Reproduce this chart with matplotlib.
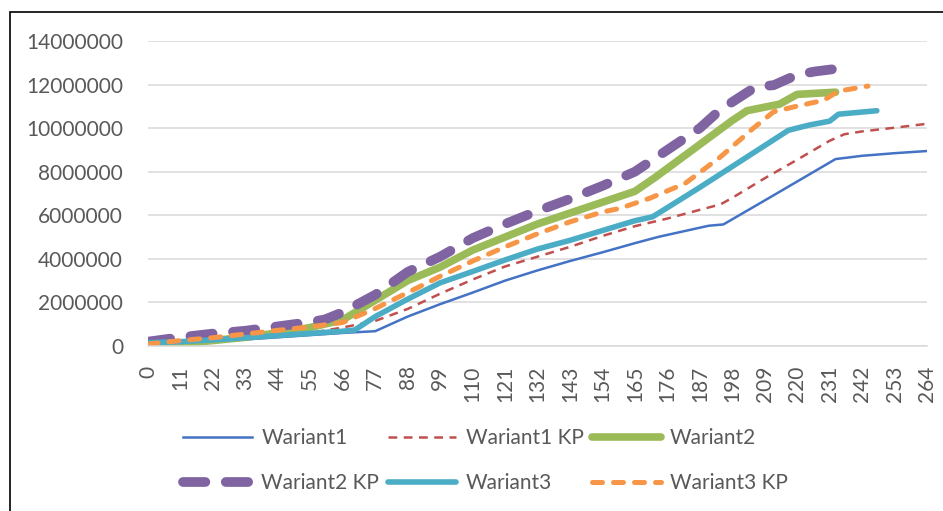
import matplotlib
matplotlib.use('Agg')
from matplotlib import pyplot as plt
from matplotlib.patches import Rectangle
from matplotlib.ticker import FuncFormatter

plt.rcParams['font.family'] = ['Lato', 'DejaVu Sans']

# dane (wartosci w milionach)
x_w1 = [0, 11, 22, 33, 44, 55, 66, 77, 88, 99, 110, 121, 132, 143, 154, 165, 173, 190, 195, 209, 220, 233, 242, 253, 264]
y_w1 = [0.05, 0.12, 0.2, 0.3, 0.4, 0.5, 0.6, 0.68, 1.35, 1.92, 2.45, 3.0, 3.47, 3.9, 4.3, 4.72, 5.01, 5.52, 5.58, 6.68, 7.55, 8.58, 8.73, 8.85, 8.95]

x_w1kp = [0, 11, 22, 33, 44, 55, 66, 77, 88, 99, 110, 121, 132, 143, 154, 165, 176, 187, 194, 198, 209, 220, 231, 236, 242, 253, 264]
y_w1kp = [0.1, 0.17, 0.27, 0.37, 0.47, 0.6, 0.85, 1.15, 1.7, 2.4, 3.05, 3.65, 4.1, 4.55, 5.05, 5.5, 5.85, 6.25, 6.5, 6.8, 7.7, 8.55, 9.42, 9.72, 9.85, 10.02, 10.2]

x_w2 = [0, 11, 22, 33, 44, 55, 66, 77, 88, 99, 110, 121, 132, 143, 154, 165, 172, 176, 187, 198, 203, 214, 220, 233]
y_w2 = [0.0, 0.12, 0.25, 0.4, 0.6, 0.85, 1.2, 2.1, 3.0, 3.62, 4.4, 5.0, 5.6, 6.1, 6.6, 7.1, 7.75, 8.15, 9.25, 10.35, 10.8, 11.1, 11.55, 11.65]

x_w2kp = [0, 11, 22, 33, 44, 55, 60, 66, 77, 88, 99, 110, 121, 132, 143, 154, 165, 176, 187, 194, 206, 212, 220, 226, 233]
y_w2kp = [0.2, 0.4, 0.57, 0.7, 0.9, 1.1, 1.22, 1.55, 2.35, 3.4, 4.1, 4.95, 5.6, 6.2, 6.75, 7.35, 8.0, 9.0, 10.0, 10.85, 11.9, 11.97, 12.45, 12.6, 12.72]

x_w3 = [0, 11, 22, 33, 44, 55, 66, 70, 77, 88, 99, 110, 121, 132, 143, 154, 165, 171, 176, 187, 198, 209, 217, 224, 231, 234, 247]
y_w3 = [0.15, 0.2, 0.28, 0.38, 0.48, 0.58, 0.68, 0.73, 1.35, 2.15, 2.9, 3.42, 3.95, 4.45, 4.85, 5.3, 5.75, 5.93, 6.35, 7.28, 8.24, 9.2, 9.9, 10.14, 10.32, 10.64, 10.8]

x_w3kp = [0, 11, 22, 33, 44, 55, 66, 77, 88, 99, 110, 121, 132, 143, 154, 160, 170, 182, 194, 205, 212, 219, 229, 234, 244]
y_w3kp = [0.09, 0.25, 0.38, 0.55, 0.72, 0.88, 1.08, 1.72, 2.45, 3.2, 3.9, 4.55, 5.15, 5.7, 6.15, 6.32, 6.78, 7.46, 8.68, 9.98, 10.75, 10.98, 11.28, 11.7, 11.93]

x_ticks = list(range(0, 265, 11))
y_ticks = list(range(0, 14000001, 2000000))

fig = plt.figure(figsize=(9.43, 5.11), dpi=100)
ax = fig.add_axes([148 / 943, 1 - 346 / 511, 779 / 943, 305 / 511])

M = 1e6
l1, = ax.plot(x_w1, [v * M for v in y_w1], color='#4472C4', lw=1.8, label='Wariant1')
l2, = ax.plot(x_w1kp, [v * M for v in y_w1kp], color='#C0504D', lw=1.8, dashes=(3.5, 2.6), label='Wariant1 KP')
l3, = ax.plot(x_w2, [v * M for v in y_w2], color='#9BBB59', lw=5.5, solid_capstyle='round', label='Wariant2')
l4, = ax.plot(x_w2kp, [v * M for v in y_w2kp], color='#8064A2', lw=7, dashes=(2.3, 2.1),
              dash_capstyle='round', label='Wariant2 KP')
l5, = ax.plot(x_w3, [v * M for v in y_w3], color='#4BACC6', lw=4, solid_capstyle='round', label='Wariant3')
l6, = ax.plot(x_w3kp, [v * M for v in y_w3kp], color='#F79646', lw=3.6, dashes=(2.0, 2.2),
              dash_capstyle='round', label='Wariant3 KP')

ax.set_xlim(0, 264)
ax.set_ylim(0, 14000000)
ax.set_xticks(x_ticks)
ax.set_yticks(y_ticks)
ax.yaxis.set_major_formatter(FuncFormatter(lambda v, p: '%d' % v))
ax.tick_params(axis='x', length=0, pad=14, labelsize=15, labelcolor='#595959', labelrotation=90)
ax.tick_params(axis='y', length=0, pad=18, labelsize=15, labelcolor='#595959')
ax.grid(axis='y', color='#D9D9D9', lw=1.1)
ax.set_axisbelow(True)
for s in ['top', 'right', 'left']:
    ax.spines[s].set_visible(False)
ax.spines['bottom'].set_color('#D9D9D9')
ax.spines['bottom'].set_linewidth(1.1)

# legenda pod wykresem - kolejnosc wierszami jak w Excelu
handles = [l1, l4, l2, l5, l3, l6]
fig.legend(handles=handles, labels=[h.get_label() for h in handles], loc='center',
           bbox_to_anchor=(0.515, 0.099), ncol=3, frameon=False,
           fontsize=15, labelcolor='#595959', handlelength=3.3, handletextpad=0.45,
           columnspacing=0.4, labelspacing=1.2)

# ramka wykresu (obcieta z prawej i z dolu)
fig.patches.append(Rectangle((10 / 943, -0.1), 1.5, 1.1 - 12 / 511, transform=fig.transFigure,
                             fill=False, edgecolor='black', lw=1.2))

plt.savefig('out.png', dpi=100)
